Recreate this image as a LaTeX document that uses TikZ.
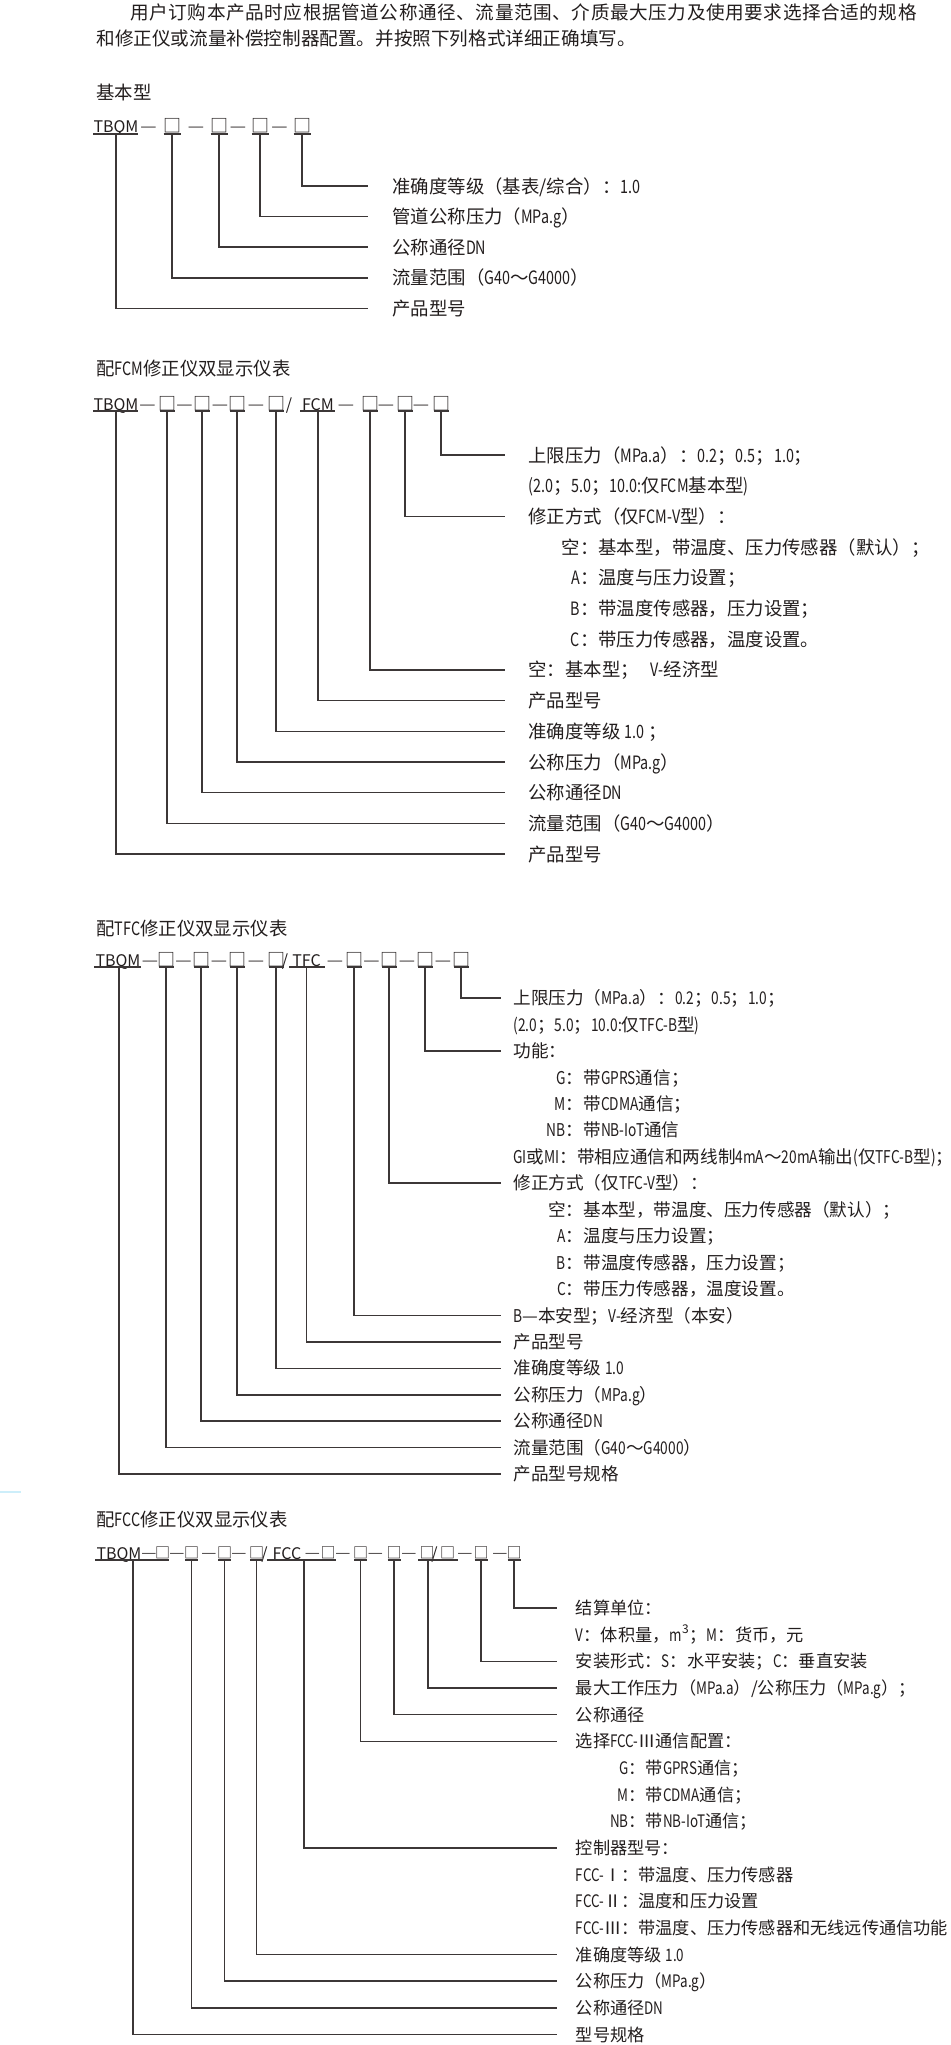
\documentclass[tikz,border=0pt]{standalone}
\usepackage{fontspec}
\setmainfont{Noto Sans CJK SC}
\newfontfamily\latn[FakeStretch=0.78]{Noto Sans CJK SC}
\newfontfamily\spreadfont[LetterSpace=3.2]{Noto Sans CJK SC}
\newfontfamily\dashfont[FakeStretch=1.3]{Noto Sans CJK SC}
\usetikzlibrary{calc}
\definecolor{txGray}{RGB}{35,30,30}
\definecolor{lnGray}{RGB}{60,55,55}
\definecolor{markCyan}{RGB}{205,238,250}
\newcommand{\nw}[1]{{\latn #1}}
\newcommand{\pfx}[1]{\makebox[35pt][r]{#1：}}
\tikzset{
    base/.style={inner sep=0pt, text=txGray},
    para/.style={base, anchor=west, font=\fontsize{9.3}{11}\selectfont, text height=8.2pt, text depth=1.1pt},
    title/.style={base, anchor=west, font=\fontsize{9.2}{11}\selectfont, text height=8.1pt, text depth=1.1pt},
    code/.style={base, font=\fontsize{8}{10}\selectfont, text height=7pt, text depth=1pt},
    hyph/.style={base, font=\dashfont\fontsize{7}{8}\selectfont, text height=6.2pt, text depth=0.8pt},
    slotbox/.style={base, font=\fontsize{9}{10}\selectfont, text height=7.9pt, text depth=1.1pt},
    hyphsm/.style={base, font=\dashfont\fontsize{6.5}{7}\selectfont, text height=5.7pt, text depth=0.8pt},
    slotsm/.style={base, font=\fontsize{7.5}{9}\selectfont, text height=6.6pt, text depth=0.9pt},
    item/.style={base, anchor=west, inner xsep=12pt, font=\fontsize{9.2}{11}\selectfont, text height=8.1pt, text depth=1.1pt},
    itemsm/.style={item, inner xsep=6.2pt, font=\fontsize{8.8}{10}\selectfont, text height=7.7pt, text depth=1.1pt},
    itemxs/.style={item, inner xsep=9.25pt, font=\fontsize{8.6}{10}\selectfont, text height=7.6pt, text depth=1pt},
    rule/.style={draw=lnGray, line width=0.75pt},
    link/.style={rule}
}

\begin{document}
\begin{tikzpicture}[x=0.5pt, y=-0.5pt]
  \useasboundingbox[fill=white] (0,0) rectangle (950,2045);

  % Intro text
  \node[para, font=\spreadfont\fontsize{9.3}{11}\selectfont] (p1) at (130,12) {用户订购本产品时应根据管道公称通径、流量范围、介质最大压力及使用要求选择合适的规格};
  \node[para] (p2) at (96,38) {和修正仪或流量补偿控制器配置。并按照下列格式详细正确填写。};

  % Basic type
  \node[title] (t1) at (96,92) {基本型};
  \node[code] (a0) at (116,126) {TBQM};
  \node[hyph] (h11) at (148.5,126) {—};
  \node[slotbox] (a1) at (172,126) {□};
  \node[hyph] (h12) at (196,126) {—};
  \node[slotbox] (a2) at (219,126) {□};
  \node[hyph] (h13) at (238,126) {—};
  \node[slotbox] (a3) at (260,126) {□};
  \node[hyph] (h14) at (279.5,126) {—};
  \node[slotbox] (a4) at (302,126) {□};
  \draw[rule] ($(a0)+(-23,8)$) -- ($(a0)+(22,8)$);
  \foreach \n in {1,...,4} \draw[rule] ($(a\n)+(-8.5,8)$) -- ($(a\n)+(8.5,8)$);

  \node[item] (la0) at (368,186) {准确度等级（基表/综合）：\nw{1.0}};
  \node[item] (la1) at (368,216.6) {管道公称压力（\nw{MPa.g}）};
  \node[item] (la2) at (368,247.2) {公称通径\nw{DN}};
  \node[item] (la3) at (368,277.8) {流量范围（\nw{G40}～\nw{G4000}）};
  \node[item] (la4) at (368,308.4) {产品型号};
  \draw[link] ($(a4)+(0,8)$) |- (la0.west);
  \draw[link] ($(a3)+(0,8)$) |- (la1.west);
  \draw[link] ($(a2)+(0,8)$) |- (la2.west);
  \draw[link] ($(a1)+(0,8)$) |- (la3.west);
  \draw[link] ($(a0)+(0,8)$) |- (la4.west);

  % With FCM corrector
  \node[title] (t2) at (96,368) {配\nw{FCM}修正仪双显示仪表};
  \node[code] (b0) at (116,404) {TBQM};
  \node[hyph] (h21) at (147.5,404) {—};
  \node[slotbox] (b1) at (167,404) {□};
  \node[hyph] (h22) at (184.5,404) {—};
  \node[slotbox] (b2) at (202,404) {□};
  \node[hyph] (h23) at (220,404) {—};
  \node[slotbox] (b3) at (237,404) {□};
  \node[hyph] (h24) at (256,404) {—};
  \node[slotbox] (b4) at (276,404) {□};
  \node[code] (bsl) at (289,404) {/};
  \node[code] (b5) at (318,404) {FCM};
  \node[hyph] (h25) at (346,404) {—};
  \node[slotbox] (b6) at (370,404) {□};
  \node[hyph] (h26) at (386,404) {—};
  \node[slotbox] (b7) at (405,404) {□};
  \node[hyph] (h27) at (421,404) {—};
  \node[slotbox] (b8) at (441,404) {□};
  \draw[rule] ($(b0)+(-23,7)$) -- ($(b0)+(22,7)$);
  \draw[rule] ($(b5)+(-18,7)$) -- ($(b5)+(17,7)$);
  \foreach \n in {1,2,3,4,6,7,8} \draw[rule] ($(b\n)+(-7.5,7)$) -- ($(b\n)+(7.5,7)$);

  \node[item, inner xsep=11.5pt] (lb0) at (505,455) {上限压力（\nw{MPa.a}）：\nw{0.2}；\nw{0.5}；\nw{1.0}；};
  \node[item, inner xsep=11.5pt] (lb1) at (505,485.7) {\nw{(2.0}；\nw{5.0}；\nw{10.0:}仅\nw{FCM}基本型\nw{)}};
  \node[item, inner xsep=11.5pt] (lb2) at (505,516.4) {修正方式（仅\nw{FCM-V}型）：};
  \node[item, inner xsep=11.5pt] (lb3) at (505,547.1) {\pfx{空}基本型，带温度、压力传感器（默认）；};
  \node[item, inner xsep=11.5pt] (lb4) at (505,577.8) {\pfx{\nw{A}}温度与压力设置；};
  \node[item, inner xsep=11.5pt] (lb5) at (505,608.5) {\pfx{\nw{B}}带温度传感器，压力设置；};
  \node[item, inner xsep=11.5pt] (lb6) at (505,639.2) {\pfx{\nw{C}}带压力传感器，温度设置。};
  \node[item, inner xsep=11.5pt] (lb7) at (505,669.9) {空：基本型；\hspace{6pt}\nw{V-}经济型};
  \node[item, inner xsep=11.5pt] (lb8) at (505,700.6) {产品型号};
  \node[item, inner xsep=11.5pt] (lb9) at (505,731.3) {准确度等级 \nw{1.0} ；};
  \node[item, inner xsep=11.5pt] (lb10) at (505,762) {公称压力（\nw{MPa.g}）};
  \node[item, inner xsep=11.5pt] (lb11) at (505,792.7) {公称通径\nw{DN}};
  \node[item, inner xsep=11.5pt] (lb12) at (505,823.4) {流量范围（\nw{G40}～\nw{G4000}）};
  \node[item, inner xsep=11.5pt] (lb13) at (505,854.1) {产品型号};
  \draw[link] ($(b8)+(0,7)$) |- (lb0.west);
  \draw[link] ($(b7)+(0,7)$) |- (lb2.west);
  \draw[link] ($(b6)+(0,7)$) |- (lb7.west);
  \draw[link] ($(b5)+(0,7)$) |- (lb8.west);
  \draw[link] ($(b4)+(0,7)$) |- (lb9.west);
  \draw[link] ($(b3)+(0,7)$) |- (lb10.west);
  \draw[link] ($(b2)+(0,7)$) |- (lb11.west);
  \draw[link] ($(b1)+(0,7)$) |- (lb12.west);
  \draw[link] ($(b0)+(0,7)$) |- (lb13.west);

  % With TFC corrector
  \node[title] (t3) at (96,928) {配\nw{TFC}修正仪双显示仪表};
  \node[code] (c0) at (118,960) {TBQM};
  \node[hyph] (h31) at (150,960) {—};
  \node[slotbox] (c1) at (166,960) {□};
  \node[hyph] (h32) at (183.5,960) {—};
  \node[slotbox] (c2) at (201,960) {□};
  \node[hyph] (h33) at (219,960) {—};
  \node[slotbox] (c3) at (237,960) {□};
  \node[hyph] (h34) at (256,960) {—};
  \node[slotbox] (c4) at (276,960) {□};
  \node[code] (csl) at (285,960) {/};
  \node[code] (c5) at (306.5,960) {TFC};
  \node[hyph] (h35) at (335,960) {—};
  \node[slotbox] (c6) at (354,960) {□};
  \node[hyph] (h36) at (371.5,960) {—};
  \node[slotbox] (c7) at (389,960) {□};
  \node[hyph] (h37) at (407,960) {—};
  \node[slotbox] (c8) at (425,960) {□};
  \node[hyph] (h38) at (443,960) {—};
  \node[slotbox] (c9) at (461,960) {□};
  \draw[rule] ($(c0)+(-24,7)$) -- ($(c0)+(23,7)$);
  \draw[rule] ($(c5)+(-17.5,7)$) -- ($(c5)+(18.5,7)$);
  \foreach \n in {1,2,3,4,6,7,8,9} \draw[rule] ($(c\n)+(-7.5,7)$) -- ($(c\n)+(7.5,7)$);

  \node[itemsm] (lc0) at (500.6,998) {上限压力（\nw{MPa.a}）：\nw{0.2}；\nw{0.5}；\nw{1.0}；};
  \node[itemsm] (lc1) at (500.6,1024.5) {\nw{(2.0}；\nw{5.0}；\nw{10.0:}仅\nw{TFC-B}型\nw{)}};
  \node[itemsm] (lc2) at (500.6,1050.9) {功能：};
  \node[itemsm] (lc3) at (500.6,1077.4) {\pfx{\nw{G}}带\nw{GPRS}通信；};
  \node[itemsm] (lc4) at (500.6,1103.8) {\pfx{\nw{M}}带\nw{CDMA}通信；};
  \node[itemsm] (lc5) at (500.6,1130.3) {\pfx{\nw{NB}}带\nw{NB-IoT}通信};
  \node[itemsm] (lc6) at (500.6,1156.7) {\nw{GI}或\nw{MI}：带相应通信和两线制\nw{4mA}～\nw{20mA}输出\nw{(}仅\nw{TFC-B}型\nw{)}；};
  \node[itemsm] (lc7) at (500.6,1183.2) {修正方式（仅\nw{TFC-V}型）：};
  \node[itemsm] (lc8) at (500.6,1209.6) {\pfx{空}基本型，带温度、压力传感器（默认）；};
  \node[itemsm] (lc9) at (500.6,1236.1) {\pfx{\nw{A}}温度与压力设置；};
  \node[itemsm] (lc10) at (500.6,1262.5) {\pfx{\nw{B}}带温度传感器，压力设置；};
  \node[itemsm] (lc11) at (500.6,1289) {\pfx{\nw{C}}带压力传感器，温度设置。};
  \node[itemsm] (lc12) at (500.6,1315.4) {\nw{B}—本安型；\nw{V-}经济型（本安）};
  \node[itemsm] (lc13) at (500.6,1341.9) {产品型号};
  \node[itemsm] (lc14) at (500.6,1368.3) {准确度等级 \nw{1.0}};
  \node[itemsm] (lc15) at (500.6,1394.8) {公称压力（\nw{MPa.g}）};
  \node[itemsm] (lc16) at (500.6,1421.2) {公称通径\nw{DN}};
  \node[itemsm] (lc17) at (500.6,1447.7) {流量范围（\nw{G40}～\nw{G4000}）};
  \node[itemsm] (lc18) at (500.6,1474.1) {产品型号规格};
  \draw[link] ($(c9)+(0,7)$) |- (lc0.west);
  \draw[link] ($(c8)+(0,7)$) |- (lc2.west);
  \draw[link] ($(c7)+(0,7)$) |- (lc7.west);
  \draw[link] ($(c6)+(0,7)$) |- (lc12.west);
  \draw[link] ($(c5)+(0,7)$) |- (lc13.west);
  \draw[link] ($(c4)+(0,7)$) |- (lc14.west);
  \draw[link] ($(c3)+(0,7)$) |- (lc15.west);
  \draw[link] ($(c2)+(0,7)$) |- (lc16.west);
  \draw[link] ($(c1)+(0,7)$) |- (lc17.west);
  \draw[link] ($(c0)+(1,7)$) |- (lc18.west);

  \draw[markCyan, line width=1pt] (0,1492) -- (21,1492);

  % With FCC controller
  \node[title] (t4) at (96,1519) {配\nw{FCC}修正仪双显示仪表};
  \node[code] (e0) at (119,1553) {TBQM};
  \node[hyphsm] (h41) at (149,1553) {—};
  \node[slotsm] (e0b) at (162.5,1553) {□};
  \node[hyphsm] (h42) at (177,1553) {—};
  \node[slotsm] (e1) at (191.5,1553) {□};
  \node[hyphsm] (h43) at (209,1553) {—};
  \node[slotsm] (e2) at (224.5,1553) {□};
  \node[hyphsm] (h44) at (239,1553) {—};
  \node[slotsm] (e3) at (256.5,1553) {□};
  \node[code] (esl1) at (264.5,1553) {/};
  \node[code] (e4) at (287,1553) {FCC};
  \node[hyphsm] (h45) at (312.5,1553) {—};
  \node[slotsm] (e4b) at (328,1553) {□};
  \node[hyphsm] (h46) at (343,1553) {—};
  \node[slotsm] (e5) at (360.5,1553) {□};
  \node[hyphsm] (h47) at (375.5,1553) {—};
  \node[slotsm] (e6) at (394,1553) {□};
  \node[hyphsm] (h48) at (409,1553) {—};
  \node[slotsm] (e7) at (427,1553) {□};
  \node[code] (esl2) at (434.5,1553) {/};
  \node[slotsm] (e7b) at (447.5,1553) {□};
  \node[hyphsm] (h49) at (465,1553) {—};
  \node[slotsm] (e8) at (481,1553) {□};
  \node[hyphsm] (h410) at (500,1553) {—};
  \node[slotsm] (e9) at (514,1553) {□};
  \draw[rule] ($(e0)+(-24,7)$) -- ($(e0b)+(6,7)$);
  \draw[rule] ($(e4)+(-20,7)$) -- ($(e4b)+(8,7)$);
  \draw[rule] ($(e7)+(-9,7)$) -- ($(e7b)+(10.5,7)$);
  \foreach \n in {1,2,3,5,6,8,9} \draw[rule] ($(e\n)+(-6.5,7)$) -- ($(e\n)+(6.5,7)$);
  \coordinate (g1) at ($(e0)+(14,7)$);
  \coordinate (g2) at ($(e4)+(17,7)$);
  \coordinate (g3) at ($(e7)+(1,7)$);

  \node[itemxs] (le0) at (557,1608) {结算单位：};
  \node[itemxs] (le1) at (557,1634.7) {\nw{V}：体积量，\nw{m}\textsuperscript{3}；\nw{M}：货币，元};
  \node[itemxs] (le2) at (557,1661.3) {安装形式：\nw{S}：水平安装；\nw{C}：垂直安装};
  \node[itemxs] (le3) at (557,1688) {最大工作压力（\nw{MPa.a}）/公称压力（\nw{MPa.g}）；};
  \node[itemxs] (le4) at (557,1714.6) {公称通径};
  \node[itemxs] (le5) at (557,1741.3) {选择\nw{FCC-}Ⅲ通信配置：};
  \node[itemxs] (le6) at (557,1767.9) {\pfx{\nw{G}}带\nw{GPRS}通信；};
  \node[itemxs] (le7) at (557,1794.6) {\pfx{\nw{M}}带\nw{CDMA}通信；};
  \node[itemxs] (le8) at (557,1821.2) {\pfx{\nw{NB}}带\nw{NB-IoT}通信；};
  \node[itemxs] (le9) at (557,1847.9) {控制器型号：};
  \node[itemxs] (le10) at (557,1874.5) {\nw{FCC-}Ⅰ：带温度、压力传感器};
  \node[itemxs] (le11) at (557,1901.2) {\nw{FCC-}Ⅱ：温度和压力设置};
  \node[itemxs] (le12) at (557,1927.8) {\nw{FCC-}Ⅲ：带温度、压力传感器和无线远传通信功能};
  \node[itemxs] (le13) at (557,1954.5) {准确度等级 \nw{1.0}};
  \node[itemxs] (le14) at (557,1981.1) {公称压力（\nw{MPa.g}）};
  \node[itemxs] (le15) at (557,2007.8) {公称通径\nw{DN}};
  \node[itemxs] (le16) at (557,2034.4) {型号规格};
  \draw[link] ($(e9)+(0,7)$) |- (le0.west);
  \draw[link] ($(e8)+(0,7)$) |- (le2.west);
  \draw[link] (g3) |- (le3.west);
  \draw[link] ($(e6)+(0,7)$) |- (le4.west);
  \draw[link] ($(e5)+(0,7)$) |- (le5.west);
  \draw[link] (g2) |- (le9.west);
  \draw[link] ($(e3)+(0,7)$) |- (le13.west);
  \draw[link] ($(e2)+(0,7)$) |- (le14.west);
  \draw[link] ($(e1)+(0,7)$) |- (le15.west);
  \draw[link] (g1) |- (le16.west);
\end{tikzpicture}
\end{document}
